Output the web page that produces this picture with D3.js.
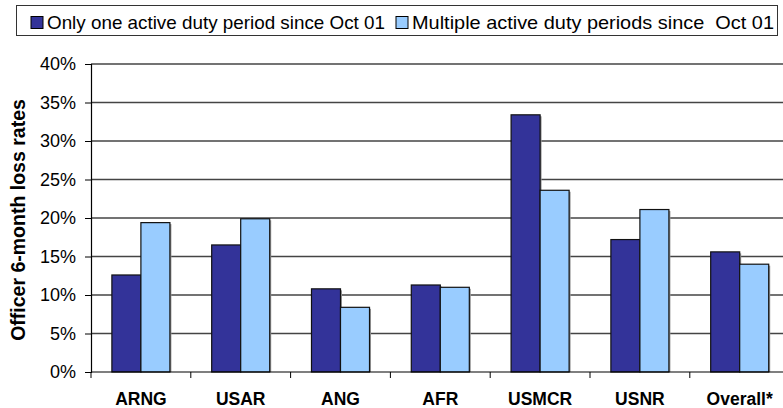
<!DOCTYPE html>
<html><head><meta charset="utf-8">
<script src="https://cdn.jsdelivr.net/npm/d3@7"></script>
<style>body{margin:0;background:#fff}svg{display:block;font-family:Arial,"Liberation Sans",sans-serif}</style>
</head><body>
<svg id="c" width="783" height="408"></svg>
<script>
const categories = ["ARNG","USAR","ANG","AFR","USMCR","USNR","Overall*"];
const seriesNames = ["Only one active duty period since Oct 01","Multiple active duty periods since  Oct 01"];
const singleValues = [12.6, 16.5, 10.8, 11.3, 33.4, 17.2, 15.6];
const multipleValues = [19.4, 19.9, 8.4, 11.0, 23.6, 21.1, 14.0];
const yTicks = [0,5,10,15,20,25,30,35,40];
const colors = ["#333399","#99CCFF"];

const svg = d3.select("#c");
const L = 91, T = 64, B = 372, catW = 99.8;
const R = L + catW*categories.length;
const y = d3.scaleLinear().domain([0,40]).range([B,T]);
const x0 = d3.scaleBand().domain(categories).range([L,R]).padding(0);
const x1 = d3.scaleBand().domain([0,1]).range([0,x0.bandwidth()]).paddingInner(0).paddingOuter(0.72);

// gridlines
svg.append("g").selectAll("line").data(yTicks.filter(d=>d>0)).join("line")
  .attr("x1",L).attr("x2",783).attr("y1",d=>y(d)).attr("y2",d=>y(d))
  .attr("stroke","#444").attr("stroke-width",1.3);

// y axis
const ya = d3.axisLeft(y).tickValues(yTicks).tickFormat(d=>d+"%").tickSize(6).tickPadding(9);
const yg = svg.append("g").attr("transform",`translate(${L},0)`).call(ya);
yg.select(".domain").attr("stroke","#000").attr("stroke-width",1.2);
yg.selectAll(".tick line").attr("stroke","#000");
yg.selectAll("text").attr("font-size",18).attr("fill","#000").attr("font-family","Arial, 'Liberation Sans', sans-serif");

// bars
const data = categories.map((c,i)=>({c, v:[singleValues[i], multipleValues[i]]}));
const g = svg.append("g").selectAll("g").data(data).join("g")
  .attr("transform",d=>`translate(${x0(d.c)},0)`);
g.selectAll("rect.sh").data(d=>d.v.map((v,k)=>({v,k}))).join("rect").attr("class","sh")
  .attr("x",d=>x1(d.k)+1.5).attr("y",d=>y(d.v)+1.5).attr("width",x1.bandwidth())
  .attr("height",d=>B-y(d.v)-1.5).attr("fill","#999");
g.selectAll("rect.b").data(d=>d.v.map((v,k)=>({v,k}))).join("rect").attr("class","b")
  .attr("x",d=>x1(d.k)).attr("y",d=>y(d.v)).attr("width",x1.bandwidth())
  .attr("height",d=>B-y(d.v)).attr("fill",d=>colors[d.k]).attr("stroke","#111").attr("stroke-width",1.2);

// x axis
const xg = svg.append("g").attr("transform",`translate(0,${B})`);
xg.append("line").attr("x1",L).attr("x2",783).attr("stroke","#000").attr("stroke-width",1.2);
xg.selectAll("line.t").data(categories.map(c=>x0(c))).join("line").attr("class","t")
  .attr("x1",d=>d).attr("x2",d=>d).attr("y1",0).attr("y2",6).attr("stroke","#000");
xg.selectAll("text").data(categories).join("text")
  .attr("x",d=>x0(d)+x0.bandwidth()/2).attr("y",33).attr("text-anchor","middle")
  .attr("font-size",17.5).attr("font-weight","bold").text(d=>d);

// y label
svg.append("text").attr("transform","translate(25,220) rotate(-90)").attr("text-anchor","middle")
  .attr("font-size",19.5).attr("font-weight","bold").text("Officer 6-month loss rates");

// legend
svg.append("rect").attr("x",16.5).attr("y",5.5).attr("width",761).attr("height",30)
  .attr("fill","#fff").attr("stroke","#333").attr("stroke-width",1);
const lx = [31, 396];
const lw = [338, 362];
const lg = svg.append("g").selectAll("g").data(seriesNames).join("g")
  .attr("transform",(d,i)=>`translate(${lx[i]},0)`);
lg.append("rect").attr("x",0).attr("y",16.5).attr("width",12).attr("height",12)
  .attr("fill",(d,i)=>colors[i]).attr("stroke","#000");
lg.append("text").attr("x",16).attr("y",29).attr("font-size",18.5).style("white-space","pre")
  .attr("textLength",(d,i)=>lw[i]).attr("lengthAdjust","spacingAndGlyphs").text(d=>d);
</script>
</body></html>
